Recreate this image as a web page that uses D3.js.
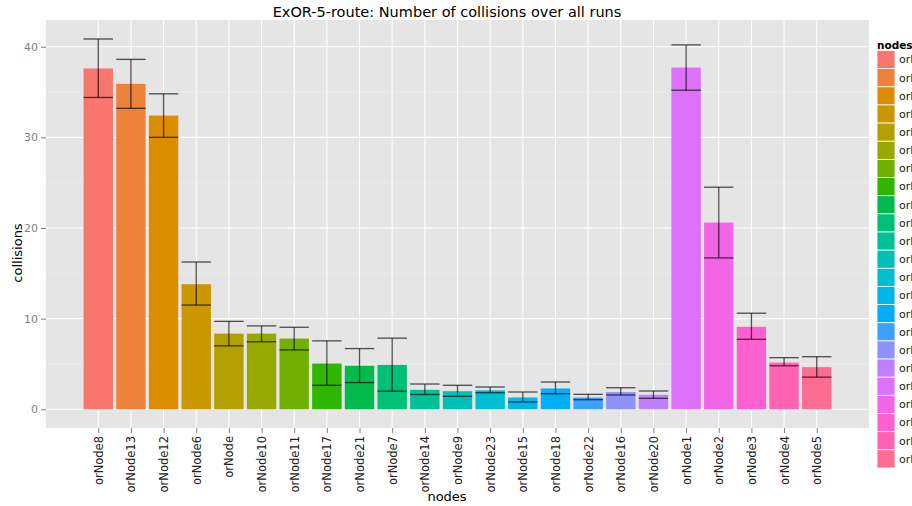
<!DOCTYPE html>
<html>
<head>
<meta charset="utf-8">
<script src="https://cdn.jsdelivr.net/npm/d3@7"></script>
<style>
  html, body { margin: 0; padding: 0; background: #fff; }
  svg { display: block; font-family: "DejaVu Sans", sans-serif; }
</style>
</head>
<body>
<svg id="chart" width="912" height="506"></svg>
<script>
// Nodes in plotting order, with mean collisions and error-bar limits
const nodes = ["orNode8", "orNode13", "orNode12", "orNode6", "orNode", "orNode10", "orNode11",
  "orNode17", "orNode21", "orNode7", "orNode14", "orNode9", "orNode23", "orNode15", "orNode18",
  "orNode22", "orNode16", "orNode20", "orNode1", "orNode2", "orNode3", "orNode4", "orNode5"];
const collisions = [37.6, 35.9, 32.4, 13.8, 8.35, 8.35, 7.8, 5.05, 4.8, 4.9, 2.15, 2.0, 2.1,
  1.3, 2.3, 1.3, 1.9, 1.6, 37.7, 20.6, 9.1, 5.15, 4.65];
const errLow = [34.4, 33.2, 30.0, 11.5, 7.0, 7.45, 6.55, 2.65, 2.95, 2.0, 1.63, 1.43, 1.83,
  0.81, 1.72, 1.06, 1.58, 1.21, 35.2, 16.7, 7.72, 4.8, 3.55];
const errHigh = [40.85, 38.6, 34.8, 16.25, 9.7, 9.2, 9.05, 7.55, 6.7, 7.85, 2.79, 2.65, 2.46,
  1.91, 3.01, 1.65, 2.38, 2.02, 40.2, 24.5, 10.6, 5.7, 5.8];
const yTicks = [0, 10, 20, 30, 40];
const yMinor = [5, 15, 25, 35];

const title = "ExOR-5-route: Number of collisions over all runs";

// ggplot-style hue palette computed in polar CIE Luv (hcl)
function hclLuv(h, c, l) {
  const Xn = 95.047, Yn = 100, Zn = 108.883;
  const den = Xn + 15 * Yn + 3 * Zn;
  const un = 4 * Xn / den, vn = 9 * Yn / den;
  const hr = h * Math.PI / 180;
  const U = c * Math.cos(hr), V = c * Math.sin(hr);
  const Y = Yn * (l > 8 ? Math.pow((l + 16) / 116, 3) : l / 903.3);
  const u = U / (13 * l) + un, v = V / (13 * l) + vn;
  const X = 9 * Y * u / (4 * v);
  const Z = -X / 3 - 5 * Y + 3 * Y / v;
  const lin = [
    (3.240479 * X - 1.537150 * Y - 0.498535 * Z) / 100,
    (-0.969256 * X + 1.875992 * Y + 0.041556 * Z) / 100,
    (0.055648 * X - 0.204043 * Y + 1.057311 * Z) / 100
  ];
  const g = lin.map(t => {
    const s = t <= 0.0031308 ? 12.92 * t : 1.055 * Math.pow(t, 1 / 2.4) - 0.055;
    return Math.round(255 * Math.max(0, Math.min(1, s)));
  });
  return d3.rgb(g[0], g[1], g[2]).formatHex();
}
const n = nodes.length;
const palette = nodes.map((d, i) => hclLuv(15 + i * 360 / n, 100, 65));

const svg = d3.select("#chart");
const panel = { left: 46, right: 869, top: 20, bottom: 428 };

const x = d3.scalePoint().domain(nodes).range([panel.left, panel.right]).padding(1.6);
const step = x.step();
const barW = step * 0.9;
const y = d3.scaleLinear().domain([0, 40]).range([409.3, 46.7]);
const color = d3.scaleOrdinal().domain(nodes).range(palette);

// Panel background and grid
svg.append("rect")
  .attr("x", panel.left).attr("y", panel.top)
  .attr("width", panel.right - panel.left).attr("height", panel.bottom - panel.top)
  .attr("fill", "#E5E5E5");

svg.append("g").selectAll("line").data(yMinor).join("line")
  .attr("x1", panel.left).attr("x2", panel.right)
  .attr("y1", d => y(d)).attr("y2", d => y(d))
  .attr("stroke", "#F2F2F2").attr("stroke-width", 0.6);

svg.append("g").selectAll("line").data(yTicks).join("line")
  .attr("x1", panel.left).attr("x2", panel.right)
  .attr("y1", d => y(d)).attr("y2", d => y(d))
  .attr("stroke", "#fff").attr("stroke-width", 1.1);

svg.append("g").selectAll("line").data(nodes).join("line")
  .attr("x1", d => x(d)).attr("x2", d => x(d))
  .attr("y1", panel.top).attr("y2", panel.bottom)
  .attr("stroke", "#fff").attr("stroke-width", 1.1);

// Bars
svg.append("g").selectAll("rect").data(nodes).join("rect")
  .attr("x", d => x(d) - barW / 2)
  .attr("width", barW)
  .attr("y", (d, i) => y(collisions[i]))
  .attr("height", (d, i) => y(0) - y(collisions[i]))
  .attr("fill", d => color(d));

// Error bars
const eb = svg.append("g")
  .attr("stroke", "#000").attr("stroke-opacity", 0.68).attr("stroke-width", 1.3)
  .attr("fill", "none");
nodes.forEach((d, i) => {
  const cx = x(d);
  eb.append("line").attr("x1", cx).attr("x2", cx)
    .attr("y1", y(errLow[i])).attr("y2", y(errHigh[i]));
  eb.append("line").attr("x1", cx - barW / 2).attr("x2", cx + barW / 2)
    .attr("y1", y(errHigh[i])).attr("y2", y(errHigh[i]));
  eb.append("line").attr("x1", cx - barW / 2).attr("x2", cx + barW / 2)
    .attr("y1", y(errLow[i])).attr("y2", y(errLow[i]));
});

// Y axis
const yAxis = d3.axisLeft(y).tickValues(yTicks).tickSize(5).tickPadding(3);
const gy = svg.append("g").attr("transform", `translate(${panel.left},0)`).call(yAxis);
gy.select(".domain").remove();
gy.selectAll(".tick line").attr("stroke", "#7F7F7F");
gy.selectAll(".tick text").attr("fill", "#7F7F7F").attr("font-size", 11)
  .attr("font-family", "DejaVu Sans, sans-serif");

// X axis
const xAxis = d3.axisBottom(x).tickSize(5).tickPadding(3);
const gx = svg.append("g").attr("transform", `translate(0,${panel.bottom})`).call(xAxis);
gx.select(".domain").remove();
gx.selectAll(".tick line").attr("stroke", "#7F7F7F");
gx.selectAll(".tick text")
  .attr("fill", "#222").attr("font-size", 11.5)
  .attr("font-family", "DejaVu Sans, sans-serif")
  .attr("transform", "rotate(-90)")
  .attr("text-anchor", "end")
  .attr("x", -8).attr("y", 0).attr("dy", "0.35em");

// Titles
svg.append("text").attr("x", 447).attr("y", 16.5).attr("text-anchor", "middle")
  .attr("font-size", 14.5).attr("fill", "#000").text(title);
svg.append("text").attr("x", 447).attr("y", 501).attr("text-anchor", "middle")
  .attr("font-size", 13).attr("fill", "#000").text("nodes");
svg.append("text").attr("transform", "translate(22,253) rotate(-90)")
  .attr("text-anchor", "middle").attr("font-size", 13).attr("fill", "#000").text("collisions");

// Legend (labels run past the right edge of the figure)
const lg = svg.append("g").attr("transform", "translate(877,0)");
lg.append("text").attr("x", 0).attr("y", 48.5).attr("font-size", 10.5)
  .attr("font-weight", "bold").text("nodes");
const keyTop = 50.5, keyH = 18.15;
const items = lg.selectAll("g.key").data(nodes).join("g").attr("class", "key")
  .attr("transform", (d, i) => `translate(0,${keyTop + i * keyH})`);
items.append("rect").attr("x", 0).attr("y", 0).attr("width", 18).attr("height", keyH)
  .attr("fill", d => color(d)).attr("stroke", "#fff").attr("stroke-width", 0.8);
items.append("text").attr("x", 22).attr("y", keyH / 2).attr("dy", "0.35em")
  .attr("font-size", 11).attr("fill", "#1a1a1a").text(d => d);
</script>
</body>
</html>
